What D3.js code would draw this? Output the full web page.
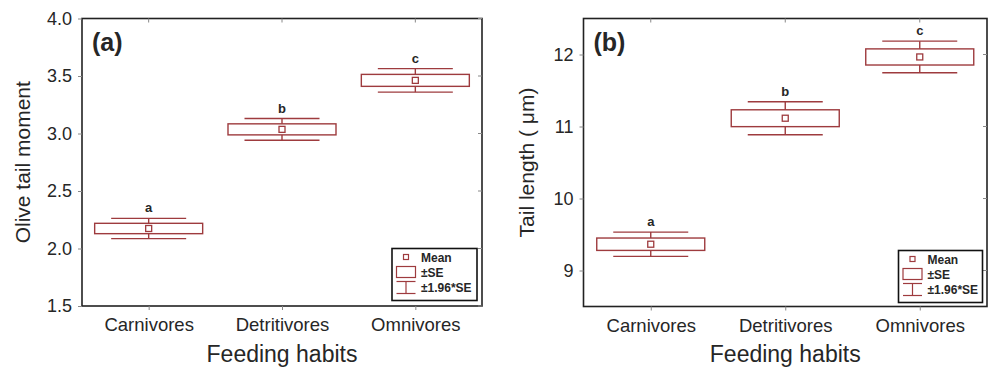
<!DOCTYPE html>
<html>
<head>
<meta charset="utf-8">
<script src="https://cdn.jsdelivr.net/npm/d3@7"></script>
<style>
  body { margin: 0; background: #fff; }
  text { font-family: "Liberation Sans", Arial, sans-serif; fill: #262626; }
</style>
</head>
<body>
<svg id="chart" width="988" height="370"></svg>
<script>
// Data
const categories = ['Carnivores', 'Detritivores', 'Omnivores']
const letters = ['a', 'b', 'c']

const olMean = [2.174, 3.036, 3.462]
const olSE = [0.045, 0.048, 0.052]
const olTicks = [1.5, 2.0, 2.5, 3.0, 3.5, 4.0]

const tlMean = [9.365, 11.115, 11.966]
const tlSE = [0.086, 0.117, 0.112]
const tlTicks = [9, 10, 11, 12]

const legendLabels = ['Mean', '±SE', '±1.96*SE']

const RED = '#9e3b3e'
const INK = '#222'

const svg = d3.select('#chart')

function drawPanel(opts) {
  const {left, right, top, bottom, domain, ticks, fmt, mean, se, tag, yTitle, titleX, legend} = opts
  const g = svg.append('g')

  const x = d3.scalePoint().domain(categories).range([left, right]).padding(0.5)
  const y = d3.scaleLinear().domain(domain).range([bottom, top])

  // frame
  g.append('rect')
    .attr('x', left).attr('y', top)
    .attr('width', right - left).attr('height', bottom - top)
    .attr('fill', 'none').attr('stroke', INK).attr('stroke-width', 1.6)

  // axes
  const yAxis = d3.axisLeft(y).tickValues(ticks).tickFormat(fmt).tickSize(4).tickPadding(6)
  const ay = g.append('g').attr('transform', `translate(${left},0)`).call(yAxis)
  ay.select('.domain').remove()
  ay.selectAll('line').attr('stroke', '#888')
  ay.selectAll('text').attr('font-size', 18).attr('fill', INK)

  const xAxis = d3.axisBottom(x).tickSize(4).tickPadding(8)
  const ax = g.append('g').attr('transform', `translate(0,${bottom})`).call(xAxis)
  ax.select('.domain').remove()
  ax.selectAll('line').attr('stroke', '#888')
  ax.selectAll('text').attr('font-size', 18.5).attr('fill', INK)

  // inner ticks on top and right
  g.selectAll('.ttick').data(categories).join('line')
    .attr('x1', d => x(d)).attr('x2', d => x(d))
    .attr('y1', top).attr('y2', top + 4)
    .attr('stroke', '#888')
  g.selectAll('.rtick').data(ticks).join('line')
    .attr('x1', right).attr('x2', right - 4)
    .attr('y1', d => y(d)).attr('y2', d => y(d))
    .attr('stroke', '#888')

  const boxW = 108, capW = 75

  const groups = g.selectAll('.grp').data(categories.map((c, i) => ({c, m: mean[i], s: se[i], l: letters[i]})))
    .join('g')

  // whiskers
  groups.append('line')
    .attr('x1', d => x(d.c)).attr('x2', d => x(d.c))
    .attr('y1', d => y(d.m + 1.96 * d.s)).attr('y2', d => y(d.m - 1.96 * d.s))
    .attr('stroke', RED).attr('stroke-width', 1.4)
  ;[1, -1].forEach(sign => {
    groups.append('line')
      .attr('x1', d => x(d.c) - capW / 2).attr('x2', d => x(d.c) + capW / 2)
      .attr('y1', d => y(d.m + sign * 1.96 * d.s)).attr('y2', d => y(d.m + sign * 1.96 * d.s))
      .attr('stroke', RED).attr('stroke-width', 1.4)
  })
  groups.append('rect')
    .attr('x', d => x(d.c) - boxW / 2).attr('width', boxW)
    .attr('y', d => y(d.m + d.s)).attr('height', d => y(d.m - d.s) - y(d.m + d.s))
    .attr('fill', '#fff').attr('stroke', RED).attr('stroke-width', 1.4)
  groups.append('rect')
    .attr('x', d => x(d.c) - 3).attr('y', d => y(d.m) - 3)
    .attr('width', 6).attr('height', 6)
    .attr('fill', '#fff').attr('stroke', RED).attr('stroke-width', 1.3)
  groups.append('text')
    .attr('x', d => x(d.c)).attr('y', d => y(d.m + 1.96 * d.s) - 6)
    .attr('text-anchor', 'middle').attr('font-size', 13).attr('font-weight', 'bold')
    .attr('fill', '#333')
    .text(d => d.l)

  // panel tag
  g.append('text').attr('x', left + 10).attr('y', top + 32)
    .attr('font-size', 25).attr('font-weight', 'bold').attr('fill', '#111')
    .text(tag)

  // titles
  g.append('text')
    .attr('transform', `translate(${titleX},${(top + bottom) / 2}) rotate(-90)`)
    .attr('text-anchor', 'middle').attr('font-size', 21)
    .text(yTitle)
  g.append('text')
    .attr('x', (left + right) / 2).attr('y', 362)
    .attr('text-anchor', 'middle').attr('font-size', 23)
    .text('Feeding habits')

  // legend
  const lg = g.append('g').attr('transform', `translate(${legend.x},${legend.y})`)
  lg.append('rect').attr('width', legend.w).attr('height', 52)
    .attr('fill', '#fff').attr('stroke', '#111').attr('stroke-width', 1.6)
  const sx = 14
  lg.append('rect').attr('x', sx - 2.5).attr('y', 6).attr('width', 5).attr('height', 5)
    .attr('fill', '#fff').attr('stroke', RED).attr('stroke-width', 1.2)
  lg.append('rect').attr('x', sx - 9.5).attr('y', 18).attr('width', 19).attr('height', 11)
    .attr('fill', '#fff').attr('stroke', RED).attr('stroke-width', 1.2)
  lg.append('line').attr('x1', sx - 9.5).attr('x2', sx + 9.5).attr('y1', 33).attr('y2', 33)
    .attr('stroke', RED).attr('stroke-width', 1.2)
  lg.append('line').attr('x1', sx - 9.5).attr('x2', sx + 9.5).attr('y1', 45).attr('y2', 45)
    .attr('stroke', RED).attr('stroke-width', 1.2)
  lg.append('line').attr('x1', sx).attr('x2', sx).attr('y1', 33).attr('y2', 45)
    .attr('stroke', RED).attr('stroke-width', 1.2)
  lg.selectAll('.lt').data(legendLabels).join('text')
    .attr('x', 29).attr('y', (d, i) => 13.5 + i * 15)
    .attr('font-size', 12).attr('font-weight', 'bold').attr('fill', '#333')
    .text(d => d)
}

drawPanel({
  left: 82, right: 482, top: 18.5, bottom: 306,
  domain: [1.5, 4.0], ticks: olTicks, fmt: d3.format('.1f'),
  mean: olMean, se: olSE, tag: '(a)', yTitle: 'Olive tail moment', titleX: 30,
  legend: {x: 392, y: 248.5, w: 85}
})

drawPanel({
  left: 583.5, right: 987, top: 18.5, bottom: 306.5,
  domain: [8.5, 12.5], ticks: tlTicks, fmt: d3.format('d'),
  mean: tlMean, se: tlSE, tag: '(b)', yTitle: 'Tail length ( μm)', titleX: 534,
  legend: {x: 898.5, y: 250.5, w: 84}
})
</script>
</body>
</html>
